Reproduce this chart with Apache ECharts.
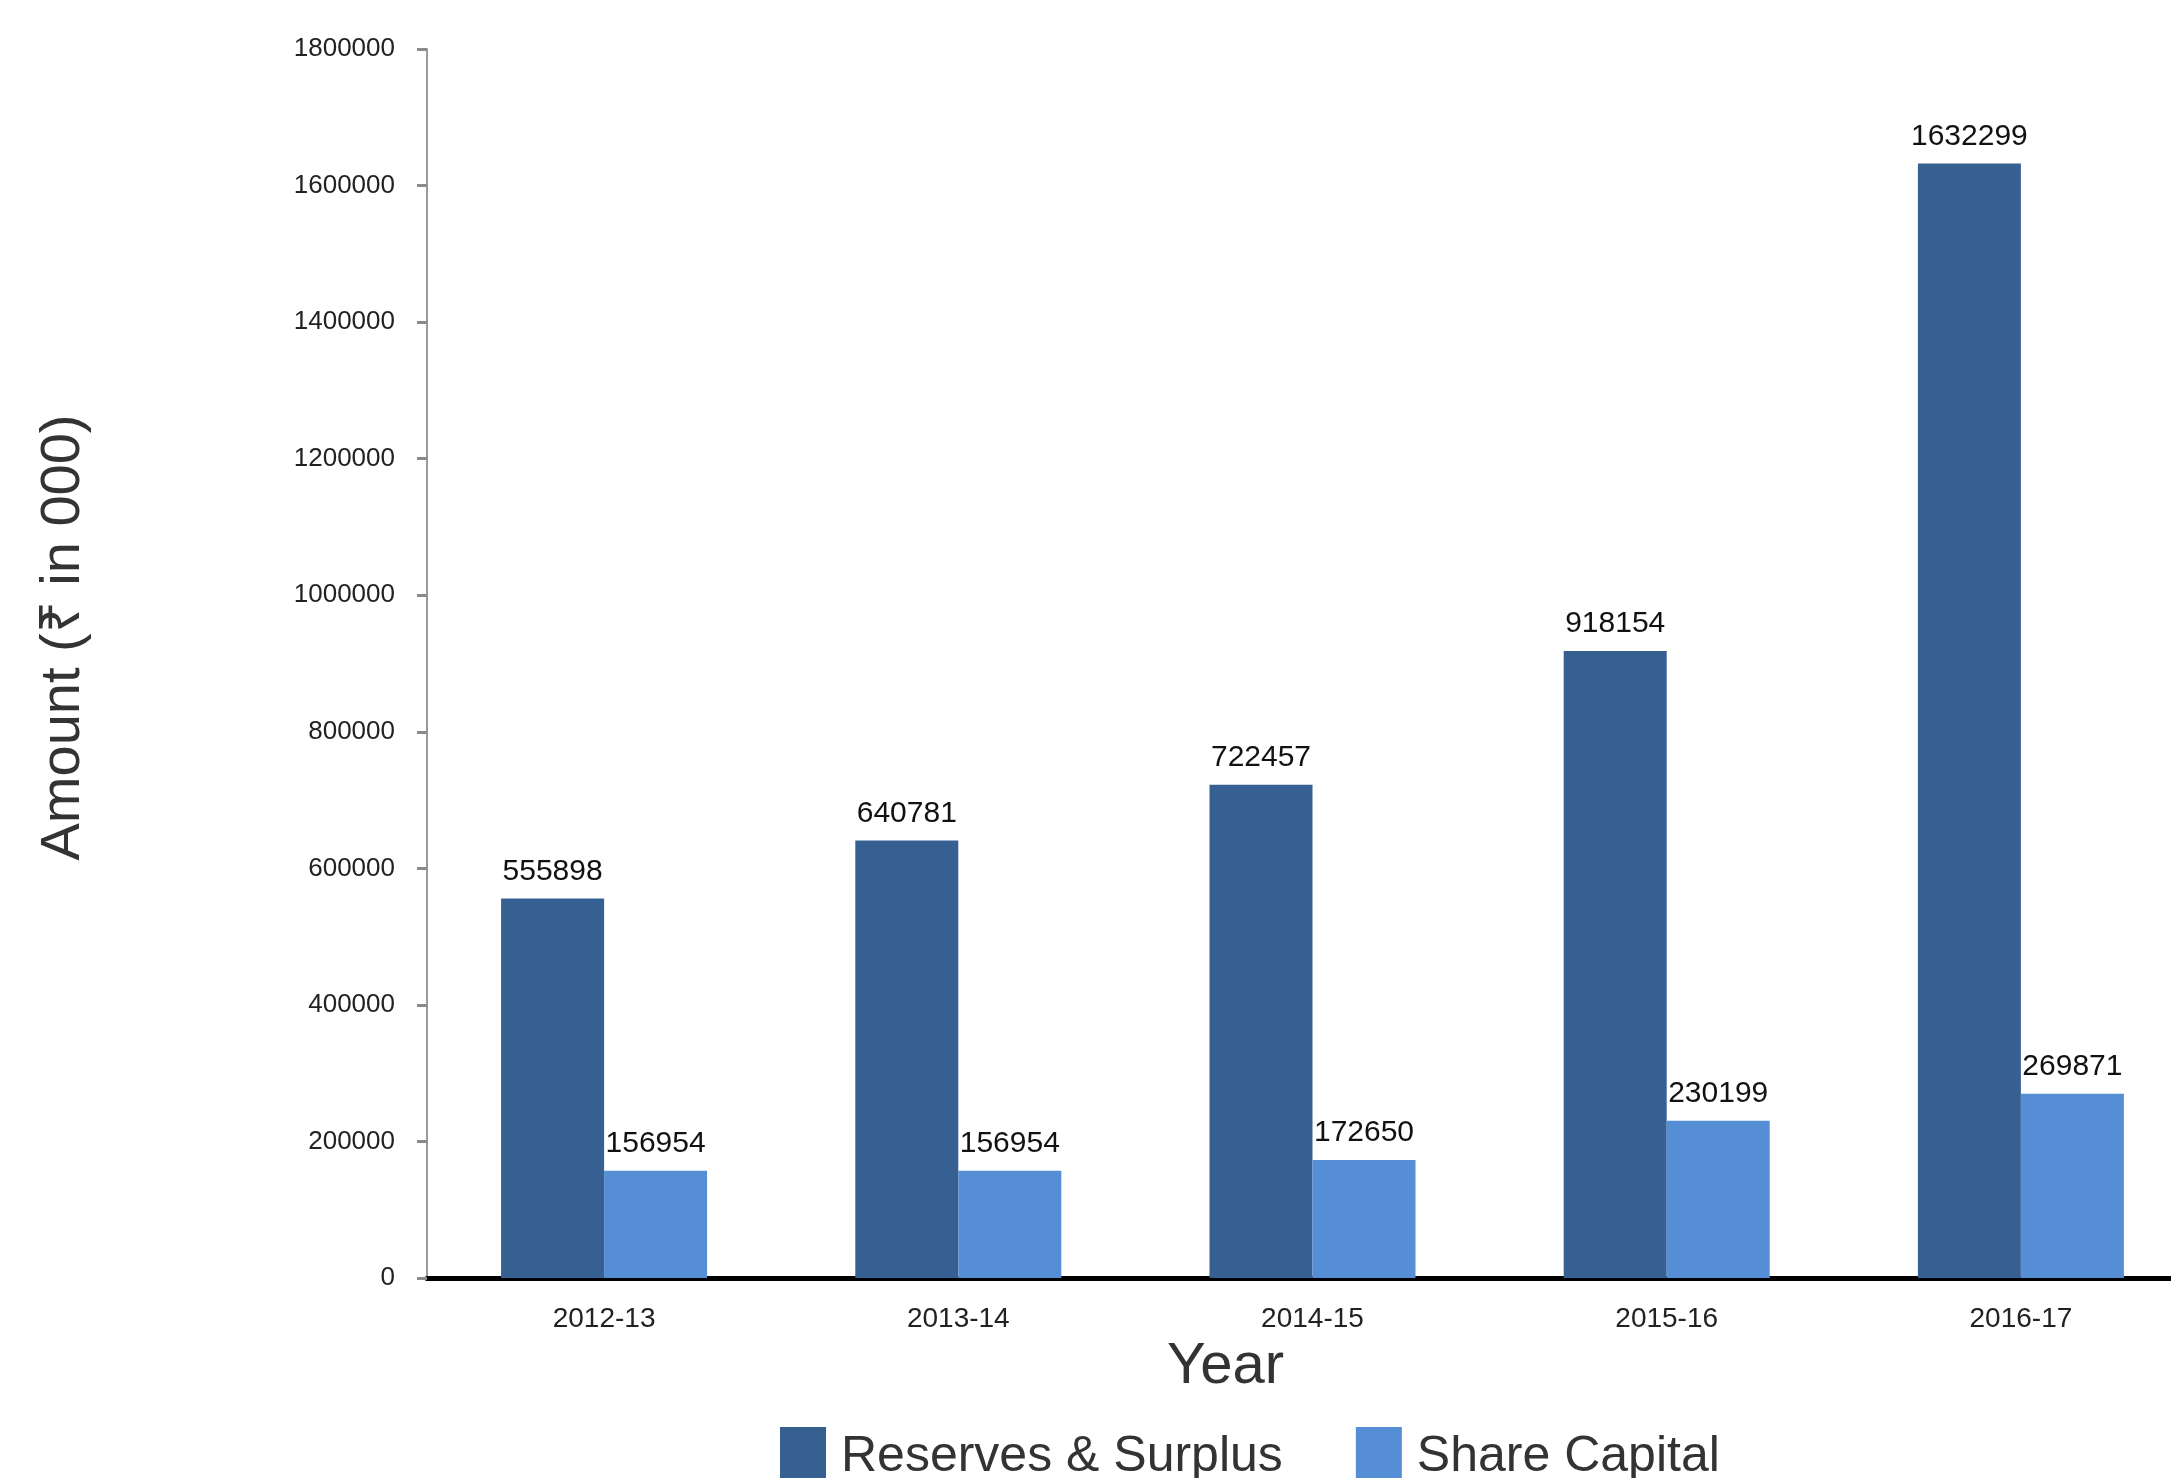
<!DOCTYPE html>
<html>
<head>
<meta charset="utf-8">
<script src="https://cdn.jsdelivr.net/npm/echarts@6/dist/echarts.min.js"></script>
<style>html,body{margin:0;padding:0;background:#fff;overflow:hidden;}#c{width:2200px;height:1478px;}</style>
</head>
<body>
<div id="c"></div>
<script>
const categories = ['2012-13', '2013-14', '2014-15', '2015-16', '2016-17'];
const reservesSurplus = [555898, 640781, 722457, 918154, 1632299];
const shareCapital = [156954, 156954, 172650, 230199, 269871];
const seriesNames = ['Reserves & Surplus', 'Share Capital'];
const yMax = 1800000;
const yInterval = 200000;

const numFont = "'Liberation Sans', Arial, sans-serif";
const titleFont = "'Liberation Sans', Arial, sans-serif";

const chart = echarts.init(document.getElementById('c'));
const labelCfg = {
  show: true, position: 'top', distance: 12,
  fontFamily: numFont, fontSize: 30, color: '#111'
};
chart.setOption({
  animation: false,
  backgroundColor: '#fff',
  grid: { left: 427, top: 49, width: 1771, height: 1229, containLabel: false },
  legend: {
    left: 775, top: 1422,
    itemWidth: 46, itemHeight: 60, itemGap: 73,
    icon: 'rect',
    textStyle: { fontFamily: titleFont, fontSize: 50, color: '#333', padding: [0, 0, 0, 10] },
    data: seriesNames
  },
  xAxis: {
    type: 'category',
    data: categories,
    name: 'Year',
    nameLocation: 'middle',
    nameGap: 49,
    nameTextStyle: { fontFamily: titleFont, fontSize: 58, color: '#333', padding: [0, 174, 0, 0] },
    axisLine: { show: true, lineStyle: { color: '#000', width: 5 } },
    axisTick: { show: false },
    axisLabel: { margin: 27, fontFamily: numFont, fontSize: 28, color: '#222' },
    splitLine: { show: false }
  },
  yAxis: {
    type: 'value',
    min: 0, max: yMax, interval: yInterval,
    name: 'Amount (₹ in 000)',
    nameLocation: 'middle',
    nameRotate: 90,
    nameGap: 335,
    nameTextStyle: { fontFamily: titleFont, fontSize: 56, color: '#333', padding: [0, 0, 0, 52] },
    axisLine: { show: true, lineStyle: { color: '#9a9a9a', width: 2 } },
    axisTick: { show: true, length: 10, lineStyle: { color: '#8a8a8a', width: 3 } },
    axisLabel: { margin: 32, fontFamily: numFont, fontSize: 26, color: '#222', formatter: function (v) { return String(v); } },
    splitLine: { show: false }
  },
  series: [
    {
      name: seriesNames[0], type: 'bar', data: reservesSurplus,
      barWidth: 103, barGap: '0%',
      itemStyle: { color: '#366092' },
      label: labelCfg
    },
    {
      name: seriesNames[1], type: 'bar', data: shareCapital,
      barWidth: 103, barGap: '0%',
      itemStyle: { color: '#558ed5' },
      label: labelCfg
    }
  ]
});
</script>
</body>
</html>
